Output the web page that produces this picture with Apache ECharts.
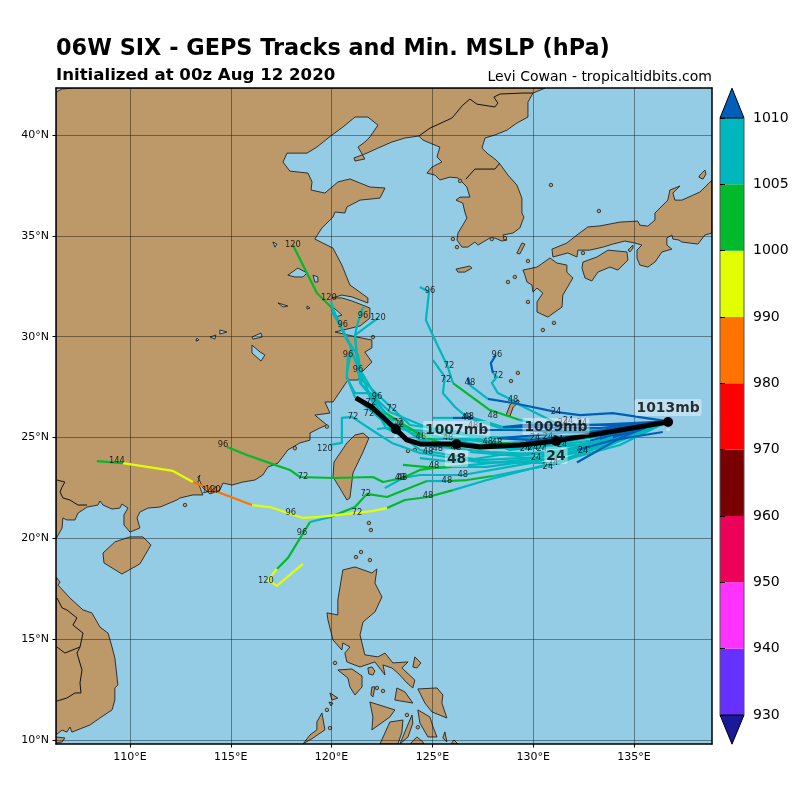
<!DOCTYPE html>
<html>
<head>
<meta charset="utf-8">
<style>html,body{margin:0;padding:0;background:#fff}#chart{width:800px;height:800px}</style>
<script src="https://cdn.jsdelivr.net/npm/echarts@6/dist/echarts.min.js"></script>
</head>
<body>
<div id="chart"></div>
<script>
// tick positions
const lonTicks = [110, 115, 120, 125, 130, 135]
const latTicks = [10, 15, 20, 25, 30, 35, 40]

// colour bar
const barLevels = [930, 940, 950, 960, 970, 980, 990, 1000, 1005, 1010]
const barColors = ['#6630ff', '#ff33ff', '#ec0058', '#780000', '#ff0000', '#ff7300', '#e2ff00', '#00ba2b', '#00b7bd']
const barLowColor = '#1a1a99'
const barHighColor = '#005fb8'

// land, [lon, lat]
const eurasia = [[106.33,42.13],[106.63,42.28],[107.27,42.33],[130.6,42.33],[130.48,42.28],[129.99,42.08],[129.74,41.63],[129.74,40.89],[129.19,40.59],[128.7,40.24],[128.1,40],[127.61,39.85],[127.46,39.35],[127.71,39.1],[128.1,38.81],[128.35,38.56],[128.75,38.01],[129.19,37.52],[129.44,36.87],[129.44,36.13],[129.54,35.93],[129.34,35.39],[129,35.14],[128.5,35.04],[128.7,34.79],[128.45,34.74],[128.1,34.89],[127.85,34.89],[127.51,34.69],[127.26,34.54],[127.11,34.69],[126.76,34.44],[126.47,34.44],[126.22,34.79],[126.27,35.14],[126.51,35.53],[126.71,35.88],[126.61,36.18],[126.51,36.62],[126.17,36.77],[126.37,36.92],[126.86,36.92],[126.71,37.42],[126.47,37.67],[126.27,37.87],[125.87,37.91],[125.37,37.77],[125.13,38.01],[124.73,38.11],[124.98,38.41],[125.47,38.66],[125.23,38.91],[125.37,39.4],[124.88,39.6],[124.53,39.75],[124.33,39.95],[123.64,39.85],[122.99,39.65],[122.3,39.35],[121.75,39.1],[121.11,38.86],[121.16,38.71],[121.65,38.81],[121.31,39.4],[121.65,39.65],[121.9,39.9],[122.3,40.49],[121.8,40.89],[121.16,40.89],[120.56,40.39],[120.02,40],[119.27,39.4],[118.78,39.1],[118.18,39.1],[117.79,39.1],[117.59,38.66],[117.93,38.21],[118.83,38.11],[119.03,37.67],[118.98,37.27],[119.67,37.12],[120.31,37.67],[120.91,37.82],[121.9,37.42],[122.65,37.37],[122.4,36.87],[121.41,36.77],[120.76,36.43],[120.66,36.13],[120.17,36.18],[120.07,35.93],[119.52,35.39],[119.17,34.84],[120.07,34.39],[120.51,33.55],[120.91,32.56],[121.8,31.92],[121.8,31.67],[121.01,31.97],[120.51,32.06],[120.02,31.92],[120.51,31.92],[121.01,31.77],[121.9,31.42],[121.9,30.92],[121.41,30.53],[120.17,30.23],[121.26,29.98],[122,29.83],[122,29.44],[121.65,29.24],[122,28.74],[121.51,28.25],[121.31,27.85],[120.81,27.85],[120.07,26.76],[119.67,26.76],[119.92,26.21],[119.17,26.11],[119.77,25.62],[119.42,25.47],[118.93,25.22],[118.93,24.87],[118.43,24.73],[117.83,24.38],[117.34,23.73],[116.84,23.53],[116.59,23.14],[116.2,22.89],[115.6,22.79],[115.06,22.64],[114.61,22.74],[114.46,22.39],[113.97,22.2],[113.62,22.49],[113.37,23.04],[113.47,23.14],[113.37,22.79],[113.62,22.15],[113.12,22.15],[112.48,22],[112.33,21.9],[111.49,21.55],[110.89,21.5],[110.49,21.3],[110.35,21.01],[110.49,20.51],[110,20.31],[109.7,20.66],[109.7,21.16],[109.9,21.5],[109.6,21.7],[109.5,21.5],[109.11,21.45],[108.66,21.65],[108.51,21.85],[108.41,21.65],[107.87,21.55],[107.42,21.25],[107.27,20.91],[106.87,20.91],[106.67,21.01],[106.63,20.51],[106.38,20.06],[106.33,20]]
const vietnam = [[106.33,18.08],[106.53,17.83],[106.43,17.68],[107.02,17.04],[107.67,16.45],[108.11,16.3],[108.51,15.6],[108.91,15.3],[109.11,14.61],[109.25,14.07],[109.4,12.73],[109.25,12.58],[109.25,11.98],[109.11,11.49],[108.51,11.09],[108.01,10.74],[107.12,10.39],[107.02,10.64],[106.87,10.39],[106.63,10.49],[106.33,10.25]]
const camau = [[106.33,10.15],[106.77,10.1],[106.63,9.9],[106.33,9.85]]
const honshu = [[130.93,34.34],[131.67,34.64],[132.17,35.04],[132.71,35.44],[133.31,35.49],[134.3,35.68],[135.19,35.73],[135.29,35.53],[135.69,35.48],[136.04,35.78],[136.04,36.13],[136.68,36.77],[136.78,37.27],[137.28,37.47],[136.93,37.12],[137.03,36.77],[137.38,36.77],[138.27,37.17],[138.87,37.76],[138.87,35.14],[138.52,35.04],[138.17,34.59],[137.38,34.69],[137.23,34.79],[136.93,34.84],[136.88,35.04],[136.63,34.89],[136.63,34.54],[136.88,34.34],[136.39,34.2],[136.04,33.7],[135.69,33.45],[135.29,33.55],[135.15,33.9],[135.15,34.29],[135.39,34.54],[135.05,34.64],[134.55,34.74],[133.95,34.59],[133.46,34.44],[132.81,34.29],[132.57,34.29],[132.22,34.29],[132.17,33.95],[131.72,34.15],[130.98,33.95]]
const shikoku = [[132.47,33.7],[133.16,33.95],[133.71,34.29],[134.65,34.2],[134.7,33.8],[134.2,33.3],[133.81,33.45],[133.21,33.2],[132.91,32.76],[132.57,32.91],[132.42,33.4]]
const awaji = [[134.7,34.29],[134.95,34.54],[134.95,34.39],[134.8,34.2]]
const kyushu = [[129.49,33.3],[130.19,33.45],[130.83,33.9],[131.18,33.65],[131.67,33.55],[131.67,33.2],[131.97,32.91],[131.47,32.06],[131.43,31.47],[130.73,30.97],[130.19,31.22],[130.19,31.72],[130.48,32.16],[130.19,32.41],[129.99,32.21],[129.94,32.56],[129.69,32.71],[129.59,33.05]]
const sado = [[138.27,38.01],[138.52,38.26],[138.57,38.06],[138.42,37.81],[138.22,37.91]]
const jeju = [[126.17,33.35],[126.86,33.5],[126.96,33.4],[126.61,33.2],[126.27,33.2]]
const tsushima = [[129.19,34.14],[129.44,34.64],[129.59,34.59],[129.34,34.1]]
const amami = [[128.65,26.1],[128.87,26.66],[129.26,26.86],[129.31,26.76],[129.01,26.51],[128.85,26.06]]
const taiwan = [[121.56,25.22],[121.85,24.97],[121.56,24.28],[121.06,23.24],[120.91,22],[120.76,21.9],[120.41,22.49],[120.07,23.04],[120.12,23.78],[120.76,24.73],[121.16,25.12]]
const hainan = [[110.64,20.07],[111.04,19.67],[110.49,18.73],[109.6,18.23],[108.71,18.78],[108.66,19.27],[109.25,19.82],[110,20.07]]
const luzon = [[120.56,18.43],[121.16,18.58],[122,18.28],[122.25,18.48],[122.15,17.78],[122.5,17.09],[122.15,16.35],[121.56,15.85],[121.41,15.21],[121.65,14.22],[122.3,14.12],[122.65,14.31],[123.04,13.82],[123.79,13.87],[123.49,13.57],[124.13,12.97],[124.03,12.58],[123.74,12.83],[123.29,13.32],[122.99,13.57],[122.55,13.72],[122.65,13.22],[122.15,13.87],[121.41,13.62],[120.76,13.87],[120.66,14.31],[120.91,14.61],[120.56,14.81],[120.51,14.46],[120.07,14.96],[119.82,15.95],[119.77,16.3],[120.31,16.2],[120.31,16.94]]
const mindoro = [[120.31,13.47],[121.01,13.52],[121.51,13.17],[121.51,12.63],[121.16,12.23],[120.91,12.63],[120.81,13.07]]
const marinduque = [[121.8,13.57],[122,13.62],[122.15,13.42],[122.05,13.22],[121.85,13.27]]
const samar = [[124.28,12.53],[125.23,12.58],[125.52,12.23],[125.47,11.83],[125.72,11.09],[124.98,11.39],[124.63,11.83]]
const masbate = [[123.24,12.58],[123.64,12.38],[124.03,11.83],[123.74,11.88],[123.14,11.98]]
const panay = [[121.9,11.88],[123.14,11.49],[122.89,11.14],[122,10.5],[122.05,11.14]]
const negros = [[122.89,10.89],[123.54,10.99],[123.49,10.4],[123.29,9.8],[122.4,9.8]]
const cebu = [[123.99,11.24],[124.03,10.84],[123.79,10.15],[123.39,9.8],[123.74,10.65]]
const leyte = [[124.28,11.49],[124.88,11.14],[125.03,10.65],[125.23,10.15],[124.78,10.15],[124.38,10.84]]
const bohol = [[123.89,9.8],[124.23,10.15],[124.53,9.9],[124.58,9.8]]
const palawan = [[119.52,11.34],[119.67,10.5],[119.08,10.1],[118.58,9.8],[118.93,10.25],[119.27,10.5],[119.27,10.89]]
const catanduanes = [[124.13,14.12],[124.43,13.82],[124.23,13.57],[124.03,13.62]]
const tablas = [[122,12.63],[122.15,12.63],[122.05,12.13],[121.95,12.23]]
const dinagat = [[125.62,10.4],[125.72,9.9],[125.52,10.1]]
const siargao = [[126.07,10],[126.27,9.8],[125.92,9.8]]
const busuanga = [[119.92,12.33],[120.31,12.08],[120.02,11.98]]
const culion = [[119.87,11.88],[120.07,11.83],[119.97,11.69]]
const islets = [[130.88,37.52],[133.26,36.23],[128.75,32.71],[129.09,32.96],[129.74,33.75],[130.48,30.33],[131.03,30.68],[129.74,31.72],[128.9,27.8],[129.24,28.2],[123.79,24.33],[124.13,24.38],[112.73,21.65],[121.46,19.32],[121.21,19.07],[121.9,18.92],[121.85,20.76],[121.95,20.41],[122.55,12.43],[119.77,11.49],[119.92,10.59],[120.17,13.82],[122.25,12.58],[123.74,11.24],[124.28,10.63],[119.77,25.54],[118.18,24.47],[126.37,37.72],[126.02,34.84],[126.22,34.44],[127.95,34.84],[128.6,34.89],[132.47,34.15],[122.05,29.98]]

// lakes, drawn over the land
const hongze = [[117.83,33.05],[118.33,33.4],[118.78,33.16],[118.58,32.96],[118.18,32.96]]
const gaoyou = [[119.08,33.05],[119.32,32.96],[119.32,32.71],[119.17,32.71]]
const chaohu = [[117.34,31.67],[117.83,31.52],[117.59,31.47]]
const shijiu = [[118.78,31.52],[118.93,31.42],[118.78,31.37]]
const taihu = [[120.07,31.47],[120.51,31.07],[120.17,30.97]]
const longgan = [[116.05,29.98],[116.5,30.18],[116.55,29.98],[116.1,29.88]]
const poyang = [[116.05,29.58],[116.45,29.24],[116.69,29.09],[116.5,28.79],[116.05,29.19]]
const liangzi = [[114.46,30.33],[114.81,30.23],[114.46,30.13]]
const honghu = [[113.97,29.98],[114.26,30.08],[114.21,29.88]]
const dongting = [[113.32,29.93],[113.42,29.83],[113.27,29.78]]
const nansi = [[117.09,34.69],[117.29,34.59],[117.19,34.44]]

// borders
const chinaKorea = [[124.33,39.95],[124.88,40.34],[125.97,40.84],[126.51,41.48],[126.86,41.78],[127.21,41.53],[128.1,41.39],[128.25,41.58],[128.05,41.88],[128.35,42.03],[129.49,42.08],[129.99,42.08]]
const dmz = [[126.66,37.81],[127.11,38.31],[128.1,38.31],[128.35,38.61]]
const chinaVietnam = [[106.38,22.89],[106.77,22.79],[106.63,22.54],[106.53,22.3],[106.67,22],[107.02,21.9],[107.42,21.65],[107.87,21.65]]
const vietnamLaos = [[106.38,17.04],[106.63,16.55],[106.87,16.45],[107.37,16.05],[107.17,15.7],[107.67,15.3],[107.52,14.61],[107.37,14.31],[107.62,13.47],[107.52,12.83],[107.57,12.33],[107.27,12.33],[106.87,12.08],[106.38,11.93]]
const laosCambodia = [[106.38,14.61],[106.77,14.31],[107.52,14.61]]

const landShapes = [eurasia, vietnam, camau, honshu, shikoku, awaji, kyushu, sado, jeju, tsushima, amami, taiwan, hainan, luzon, mindoro, marinduque, samar, masbate, panay, negros, cebu, leyte, bohol, palawan, catanduanes, tablas, dinagat, siargao, busuanga, culion]
const lakeShapes = [hongze, gaoyou, chaohu, shijiu, taihu, longgan, poyang, liangzi, honghu, dongting, nansi]
const borderLines = [chinaKorea, dmz, chinaVietnam, vietnamLaos, laosCambodia]

// ensemble tracks, [lon, lat, mslp]
const trackA = [[136.7,25.8,1012],[133.95,26.21,1011],[132.32,26.11,1011],[131.18,26.26,1011],[129,26.71,1011],[127.75,26.91,1011],[126.86,27.6,1008],[126.76,27.98,1011]]
const trackB = [[136.7,25.8,1012],[134.3,25.62,1011],[131.33,25.62,1011],[129.34,26.61,1008],[128.95,26.86,1008],[128.25,27.2,1008],[127.95,27.7,1008],[128.2,28,1008],[128,28.2,1008],[127.9,28.69,1011],[128.15,29.09,1011]]
const trackC = [[136.7,25.8,1012],[134.05,25.37,1011],[131.33,25.37,1008],[129.34,25.87,1008],[127.85,26.36,1003],[126.02,27.7,1003],[125.77,28.49,1006],[125.13,29.83,1007],[124.68,30.82,1007],[124.83,32.21,1007],[124.38,32.46,1007]]
const trackD = [[136.7,25.8,1012],[133.81,25.17,1011],[130.83,25.27,1008],[128.35,25.47,1008],[126.71,26.01,1008],[126.12,26.51,1008],[125.52,27.2,1008],[125.62,28,1008],[125.03,28.84,1008]]
const trackE = [[136.7,25.8,1012],[133.31,25.47,1011],[129.34,25.52,1011],[128.5,25.52,1011],[127.01,25.97,1008],[126.02,25.97,1011],[125.03,25.97,1007]]
const trackF = [[136.7,25.8,1012],[133.31,25.22,1011],[130.33,24.97,1008],[127.36,25.02,1008],[124.38,24.87,1008],[122.69,26.21,1008],[121.41,27.7,1008],[121.16,30.08,1008],[122.3,30.92,1008]]
const trackG = [[136.7,25.8,1012],[133.31,25.07,1011],[129.84,24.53,1008],[126.86,24.87,1008],[124.38,25.02,1008],[122.69,25.87,1008],[121.9,27.11,1008],[121.16,28.84,1008],[120.91,29.58,1008],[120.66,30.08,1008],[120.07,31.37,1007],[119.27,32.16,1003],[118.08,34.54,1003]]
const trackH = [[136.7,25.8,1012],[132.81,24.83,1011],[128.85,24.38,1008],[126.37,25.27,1008],[123.89,25.62,1008],[121.51,27.85,1008],[121.31,29.09,1008],[120.76,29.83,1008],[120.17,31.07,1008],[119.97,31.77,1008]]
const trackI = [[136.7,25.8,1012],[133.31,24.63,1008],[129.34,24.63,1008],[125.87,25.02,1008],[122.89,26.26,1008],[121.51,27.6,1008],[121.31,28.25,1008],[121.16,30.08,1008],[121.31,30.72,1008],[121.56,31.47,1008]]
const trackJ = [[136.7,25.8,1012],[134.3,24.97,1011],[131.33,24.13,1008],[127.85,24.28,1008],[124.38,24.63,1008],[122.69,25.47,1008],[121.8,27.2,1008],[121.16,27.2,1008],[120.76,27.95,1008],[120.76,28.25,1008],[121.01,29.44,1008],[120.56,30.33,1008],[120.02,31.22,1008]]
const trackK = [[136.7,25.8,1012],[133.31,24.87,1011],[130.33,24.03,1008],[127.36,23.88,1008],[124.38,24.38,1008],[122.89,25.52,1008],[121.16,27,1008],[120.76,28,1008],[120.81,29.09,1008]]
const trackL = [[136.7,25.8,1012],[133.81,24.87,1011],[131.08,24.48,1008],[128.1,24.48,1008],[124.38,25.22,1008],[122.69,26.01,1008],[122.15,27.11,1008],[121.51,28.2,1008]]
const trackM = [[136.7,25.8,1012],[133.95,24.77,1011],[130.98,23.73,1008],[127.36,23.78,1008],[124.38,24.23,1008],[122.99,24.73,1008],[122,25.37,1008],[121.01,26.02,1008],[120.51,25.97,1008],[120.51,24.73,1008],[119.92,24.63,1008]]
const trackN = [[136.7,25.8,1012],[133.31,25.37,1011],[128.35,24.97,1011],[125.37,25.27,1008],[122.69,25.47,1008],[122.25,25.42,1008]]
const trackO = [[136.7,25.8,1012],[133.95,25.02,1011],[130.98,24.13,1008],[129.34,23.88,1008],[125.97,23.54,1008],[125.13,23.49,1003],[124.38,23.39,1003],[123.54,22.99,1003],[122.55,22.79,1003],[122.05,23.04,1003],[120.07,22.99,1003],[118.43,23.04,1003],[117.93,23.39,1003],[116.94,23.73,1003],[115.8,24.13,1003],[114.81,24.53,1003]]
const trackP = [[136.7,25.8,1012],[133.56,24.53,1008],[130.83,23.98,1008],[127.71,23.54,1008],[125.97,23.54,1008],[125.13,23.49,1008],[123.54,23.64,1003]]
const trackQ = [[136.7,25.8,1012],[134.3,24.97,1008],[131.33,23.73,1008],[128,23.09,1008],[126.72,22.89,1003],[125.72,22.84,1003],[124.73,22.84,1008],[122.75,22.05,1003],[121.75,22.2,1003],[121.16,21.55,1002],[119.92,21.05,1003],[118.93,20.81,1007],[117.83,19.02,1003],[117.29,18.48,1002],[116.84,17.93,998],[117.29,17.64,998],[118.58,18.73,998]]
const trackR = [[136.7,25.8,1012],[134.3,24.63,1008],[130.98,23.73,1008],[127.71,22.89,1008],[126.02,22.39,1008],[124.78,22.05,1003],[123.64,21.9,1003],[122.75,21.5,1003],[122,21.35,998],[119.42,21.06,998],[118.58,21.01,998],[116.94,21.55,998],[116.05,21.65,998],[114.11,22.39,988],[113.12,22.79,988],[112.13,23.34,998],[109.65,23.73,998],[108.36,23.83,1003]]
const trackS = [[136.7,25.8,1012],[133.81,24.72,1008],[129.84,23.73,1008],[126.51,23.14,1008],[124.38,23.14,1008],[123.54,22.99,1008],[122.64,22.49,1008]]
const trackT = [[136.7,25.8,1012],[132.81,25.02,1011],[128.85,24.73,1008],[125.87,24.53,1003],[124.23,25.22,1003],[122.69,26.21,1003]]
const trackU = [[136.7,25.8,1012],[132.81,25.62,1011],[129.49,25.62,1011],[128.5,25.52,1011]]
const trackV = [[136.7,25.8,1012],[132.81,25.27,1011],[129,25.37,1011],[127.36,25.37,1011]]
const trackW = [[136.43,25.27,1012],[133.95,24.87,1011],[132.17,24.38,1011]]
const trackX = [[136.15,25.72,1012],[134.3,24.97,1011],[132.17,23.76,1011]]
const trackY = [[136.7,25.8,1012],[133.31,25.17,1011],[130,24.87,1011],[128.2,24.97,1011]]
const trackZ = [[136.7,25.8,1012],[133.31,24.63,1008],[130.83,24.28,1008],[128.35,24.13,1008],[126.12,23.78,1008],[124.38,23.98,1008]]
const trackAA = [[136.7,25.8,1012],[132.81,24.53,1008],[129.34,24.08,1008],[126.86,24.28,1008]]
const tracks = [trackF, trackG, trackH, trackI, trackJ, trackK, trackL, trackM, trackN, trackP, trackS, trackZ, trackAA, trackC, trackD, trackT, trackO, trackQ, trackR, trackB, trackA, trackE, trackU, trackV, trackW, trackX, trackY]

// forecast hour labels, [lon, lat]
const hours24 = [[131.13,26.26],[131.73,25.82],[131.48,25.72],[132.42,25.72],[130.09,24.97],[130.73,25.02],[129.59,24.43],[129.99,24.48],[130.43,24.43],[130.14,23.98],[130.73,23.54],[130.98,23.73],[131.43,24.63],[132.47,24.33],[131.23,24.87]]
const hours48 = [[129,26.86],[128,26.06],[126.86,27.7],[126.71,25.97],[126.81,26.02],[124.43,25.02],[124.78,24.28],[125.27,24.43],[125.08,23.59],[123.39,22.99],[123.49,22.99],[125.72,22.84],[126.51,23.14],[124.78,22.1],[127.75,24.77],[128.2,24.73],[125.77,24.97],[127.01,25.57],[126.17,24.47]]
const hours72 = [[125.82,28.54],[125.67,27.85],[128.25,28.05],[122.99,26.41],[121.95,26.71],[121.85,26.16],[123.29,25.72],[123.34,25.62],[121.06,26.02],[118.58,23.04],[121.7,22.2],[121.26,21.25]]
const hours96 = [[124.88,32.26],[128.2,29.09],[122.25,27.01],[121.31,28.35],[120.81,29.09],[120.56,30.58],[121.56,31.02],[114.61,24.63],[117.98,21.26],[118.53,20.26]]
const hours120 = [[118.08,34.54],[119.87,31.92],[122.3,30.92],[119.67,24.43],[114.11,22.39],[116.74,17.88]]
const hours144 = [[109.35,23.83],[113.97,22.35]]
const hourGroups = [['24', hours24], ['48', hours48], ['72', hours72], ['96', hours96], ['120', hours120], ['144', hours144]]

// ensemble mean
const meanTrack = [[136.69,25.77],[131.13,24.83],[129.35,24.63],[127.36,24.53],[126.2,24.68],[124.38,24.68],[123.73,24.88],[123.18,25.42],[121.99,26.51],[121.2,26.96]]
const meanMarks = [[136.69,25.77],[131.13,24.83],[126.2,24.68],[123.18,25.42]]
const meanMslp = ['1013mb', '1009mb', '1007mb', '']
const meanHours = ['', '24', '48', '']

const font = 'DejaVu Sans'
const lonMin = 106.33, lonMax = 138.87, latMin = 9.8, latMax = 42.33

function bandColor(p) {
  if (p >= 1010) return barHighColor
  if (p < 930) return barLowColor
  for (let i = 0; i < barColors.length; i++) {
    if (p >= barLevels[i] && p < barLevels[i + 1]) return barColors[i]
  }
}

// one line series per run of the same colour
function trackSeries(track) {
  const out = []
  let run = null
  for (let i = 1; i < track.length; i++) {
    const color = bandColor(track[i][2])
    if (!run || run.color !== color) {
      run = { color, pts: [track[i - 1].slice(0, 2)] }
      out.push(run)
    }
    run.pts.push(track[i].slice(0, 2))
  }
  return out.map(r => ({
    type: 'line', z: 5, silent: true, symbol: 'none', data: r.pts,
    lineStyle: { color: r.color, width: 2.2, join: 'round' }
  }))
}

function shapeSeries(shapes, z, style) {
  return {
    type: 'custom', z, silent: true, clip: true,
    data: shapes.map((s, i) => [s[0][0], s[0][1], i]),
    renderItem(params, api) {
      const s = shapes[params.dataIndex]
      return { type: 'polygon', shape: { points: s.map(p => api.coord(p)) }, style }
    }
  }
}

const hourSeries = hourGroups.map(g => ({
  type: 'scatter', z: 6, silent: true, symbolSize: 0, data: g[1],
  label: { show: true, position: 'inside', formatter: g[0], fontFamily: font, fontSize: 8.3, color: '#000' }
}))

const bigLabel = {
  show: true, fontFamily: font, fontWeight: 'bold', fontSize: 13.9, color: '#000',
  backgroundColor: 'rgba(255,255,255,0.5)', padding: [2, 2, 1, 2], borderRadius: 2
}

const chart = echarts.init(document.getElementById('chart'), null, { renderer: 'canvas' })
chart.setOption({
  animation: false,
  backgroundColor: '#fff',
  title: [
    { text: '06W SIX - GEPS Tracks and Min. MSLP (hPa)', left: 56, top: 38, padding: 0, textStyle: { fontFamily: font, fontWeight: 'bold', fontSize: 22.4, color: '#000' } },
    { text: 'Initialized at 00z Aug 12 2020', left: 56, top: 67, padding: 0, textStyle: { fontFamily: font, fontWeight: 'bold', fontSize: 16.6, color: '#000' } },
    { text: 'Levi Cowan - tropicaltidbits.com', right: 88, top: 70, padding: 0, textStyle: { fontFamily: font, fontWeight: 'normal', fontSize: 14, color: '#000' } }
  ],
  grid: [
    { left: 56, top: 88, width: 656, height: 656, z: 0, show: true, backgroundColor: '#94cce6', borderWidth: 0 },
    { left: 720, top: 118, width: 24, height: 597, z: 0 }
  ],
  xAxis: [
    {
      type: 'value', gridIndex: 0, min: lonMin, max: lonMax, position: 'bottom', z: 3,
      axisLine: { show: true, onZero: false, lineStyle: { color: '#000', width: 1.5 } },
      axisTick: { show: true, length: 3.5, customValues: lonTicks, lineStyle: { color: '#000', width: 1 } },
      axisLabel: { show: true, customValues: lonTicks, margin: 8, fontFamily: font, fontSize: 11, color: '#000', formatter: v => v + '°E' },
      splitLine: { show: true, lineStyle: { color: 'rgba(0,0,0,0.4)', width: 1 } }
    },
    {
      type: 'value', gridIndex: 0, min: lonMin, max: lonMax, position: 'top', z: 7,
      axisLine: { show: true, onZero: false, lineStyle: { color: '#000', width: 1.5 } },
      axisTick: { show: false }, axisLabel: { show: false }, splitLine: { show: false }
    },
    { type: 'value', gridIndex: 1, min: 0, max: 1, show: false }
  ],
  yAxis: [
    {
      type: 'value', gridIndex: 0, min: latMin, max: latMax, position: 'left', z: 3,
      axisLine: { show: true, onZero: false, lineStyle: { color: '#000', width: 1.5 } },
      axisTick: { show: true, length: 3.5, customValues: latTicks, lineStyle: { color: '#000', width: 1 } },
      axisLabel: { show: true, customValues: latTicks, margin: 7, fontFamily: font, fontSize: 11, color: '#000', formatter: v => v + '°N' },
      splitLine: { show: true, lineStyle: { color: 'rgba(0,0,0,0.4)', width: 1 } }
    },
    {
      type: 'value', gridIndex: 0, min: latMin, max: latMax, position: 'right', z: 7,
      axisLine: { show: true, onZero: false, lineStyle: { color: '#000', width: 1.5 } },
      axisTick: { show: false }, axisLabel: { show: false }, splitLine: { show: false }
    },
    {
      type: 'value', gridIndex: 1, min: 0, max: 9, interval: 1, position: 'right', z: 7,
      axisLine: { show: false },
      axisTick: { show: true, length: 5, lineStyle: { color: '#000', width: 1 } },
      axisLabel: { show: true, margin: 9, fontFamily: font, fontSize: 14, color: '#000', formatter: v => barLevels[v] },
      splitLine: { show: false }
    }
  ],
  series: [
    shapeSeries(landShapes, 1, { fill: '#bd9868', stroke: '#222', lineWidth: 0.9 }),
    shapeSeries(lakeShapes, 1, { fill: '#94cce6', stroke: '#222', lineWidth: 0.9 }),
    {
      type: 'scatter', z: 1, silent: true, symbol: 'circle', symbolSize: 3.5, data: islets,
      itemStyle: { color: '#bd9868', borderColor: '#222', borderWidth: 0.8, opacity: 1 }
    },
    ...borderLines.map(b => ({
      type: 'line', z: 1, silent: true, symbol: 'none', data: b,
      lineStyle: { color: '#111', width: 1 }
    })),
    ...tracks.flatMap(trackSeries),
    ...hourSeries,
    {
      type: 'line', z: 8, silent: true, symbol: 'none', data: meanTrack,
      lineStyle: { color: '#000', width: 5, join: 'round' }
    },
    {
      type: 'scatter', z: 9, silent: true, symbol: 'circle', symbolSize: 10, data: meanMarks,
      itemStyle: { color: '#000', opacity: 1 }
    },
    {
      type: 'scatter', z: 10, silent: true, symbolSize: 0, data: meanMarks,
      label: { ...bigLabel, position: 'top', distance: 6, formatter: p => meanMslp[p.dataIndex] }
    },
    {
      type: 'scatter', z: 10, silent: true, symbolSize: 0, data: meanMarks,
      label: { ...bigLabel, position: 'bottom', distance: 6, formatter: p => meanHours[p.dataIndex] }
    },
    // colour bar
    {
      type: 'custom', xAxisIndex: 2, yAxisIndex: 2, z: 5, silent: true, clip: false,
      data: barColors.map((c, i) => [0, i]),
      renderItem(params, api) {
        const i = params.dataIndex
        const a = api.coord([0, i]), b = api.coord([1, i + 1])
        return { type: 'rect', shape: { x: a[0], y: b[1], width: b[0] - a[0], height: a[1] - b[1] }, style: { fill: barColors[i] } }
      }
    },
    {
      type: 'custom', xAxisIndex: 2, yAxisIndex: 2, z: 5, silent: true, clip: false,
      data: [[0, 0]],
      renderItem(params, api) {
        const tri = (y0, tip, fill) => ({
          type: 'polygon',
          shape: { points: [api.coord([0, y0]), api.coord([0.5, tip]), api.coord([1, y0])] },
          style: { fill, stroke: '#000', lineWidth: 1 }
        })
        return {
          type: 'group',
          children: [
            tri(0, -0.44, barLowColor),
            tri(9, 9.45, barHighColor),
            {
              type: 'polyline',
              shape: { points: [api.coord([0, 0]), api.coord([0, 9])] },
              style: { stroke: '#555', lineWidth: 1, fill: null }
            },
            {
              type: 'polyline',
              shape: { points: [api.coord([1, 0]), api.coord([1, 9])] },
              style: { stroke: '#555', lineWidth: 1, fill: null }
            }
          ]
        }
      }
    }
  ]
})
</script>
</body>
</html>
